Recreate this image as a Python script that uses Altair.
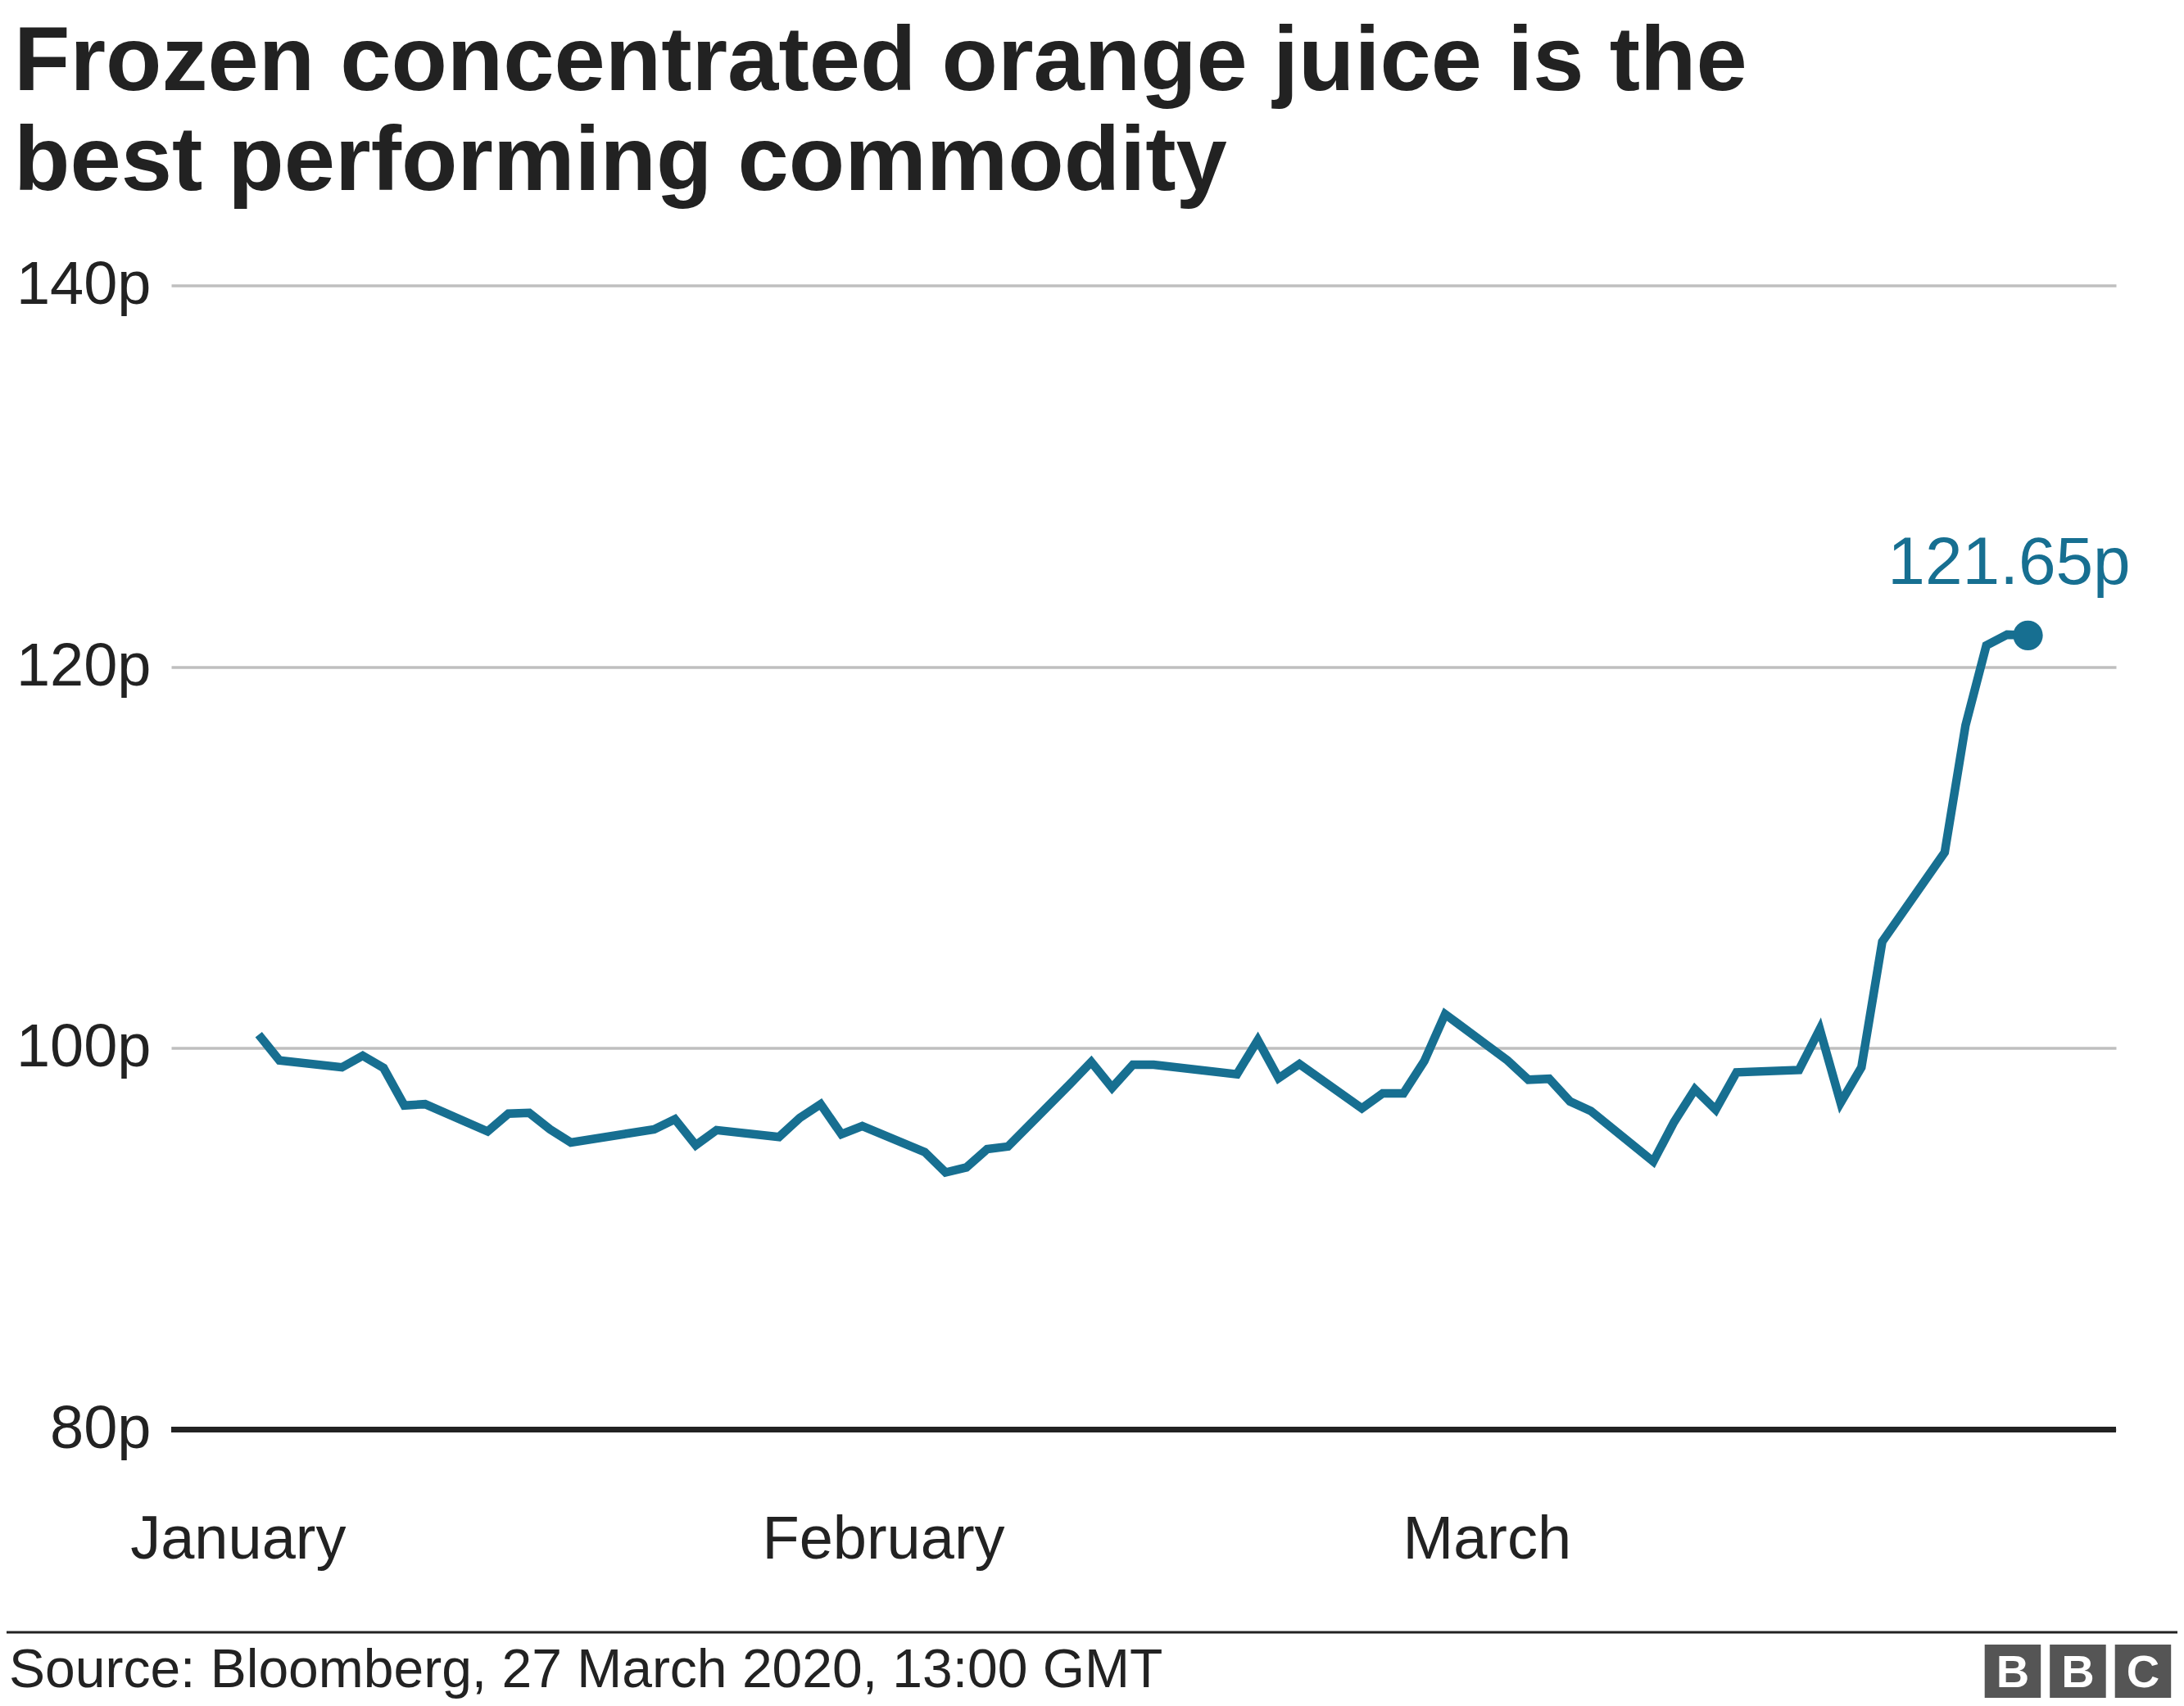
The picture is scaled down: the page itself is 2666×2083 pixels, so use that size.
import altair as alt
import pandas as pd

# ---- data ----
dates = [
    "2020-01-02", "2020-01-03", "2020-01-06", "2020-01-07", "2020-01-08", "2020-01-09", "2020-01-10",
    "2020-01-13", "2020-01-14", "2020-01-15", "2020-01-16", "2020-01-17",
    "2020-01-21", "2020-01-22", "2020-01-23", "2020-01-24",
    "2020-01-27", "2020-01-28", "2020-01-29", "2020-01-30", "2020-01-31",
    "2020-02-03", "2020-02-04", "2020-02-05", "2020-02-06", "2020-02-07",
    "2020-02-10", "2020-02-11", "2020-02-12", "2020-02-13", "2020-02-14",
    "2020-02-18", "2020-02-19", "2020-02-20", "2020-02-21",
    "2020-02-24", "2020-02-25", "2020-02-26", "2020-02-27", "2020-02-28",
    "2020-03-02", "2020-03-03", "2020-03-04", "2020-03-05", "2020-03-06",
    "2020-03-09", "2020-03-10", "2020-03-11", "2020-03-12", "2020-03-13",
    "2020-03-16", "2020-03-17", "2020-03-18", "2020-03-19", "2020-03-20",
    "2020-03-23", "2020-03-24", "2020-03-25", "2020-03-26", "2020-03-27",
]
prices = [
    100.72, 99.36, 99.00, 99.61, 98.97, 97.00, 97.07,
    95.64, 96.57, 96.61, 95.75, 95.06,
    95.75, 96.28, 94.92, 95.71,
    95.35, 96.35, 97.07, 95.49, 95.92,
    94.56, 93.49, 93.75, 94.71, 94.85,
    98.15, 99.28, 97.93, 99.14, 99.14,
    98.64, 100.43, 98.43, 99.17,
    96.85, 97.64, 97.64, 99.33, 101.79,
    99.36, 98.35, 98.40, 97.21, 96.71,
    94.06, 96.14, 97.85, 96.78, 98.74,
    98.86, 101.00, 97.14, 99.00, 105.59,
    110.27, 116.93, 121.12, 121.69, 121.65,
]

title_lines = ["Frozen concentrated orange juice is the", "best performing commodity"]
source_text = "Source: Bloomberg, 27 March 2020, 13:00 GMT"
logo_letters = ["B", "B", "C"]
month_ticks = [0, 31, 60]          # days after 1 January 2020
month_names = ["January", "February", "March"]
y_ticks = [80, 100, 120, 140]
y_baseline = [80]

# ---- styling ----
FONT = "Liberation Sans"
INK = "#222222"
BLUE = "#176f91"
GRID = "#bfbfbf"

df = pd.DataFrame({"date": pd.to_datetime(dates), "price": prices})
df["day"] = (df["date"] - pd.Timestamp("2020-01-01")).dt.days
df["date"] = df["date"].dt.strftime("%Y-%m-%d")
last = df.iloc[[-1]].copy()

label_expr = " : ".join(
    f"datum.value == {t} ? '{n}'" for t, n in zip(month_ticks[:-1], month_names[:-1])
) + f" : '{month_names[-1]}'"

x_enc = alt.X(
    "day:Q",
    scale=alt.Scale(domain=[-3.2, 90.23], nice=False, zero=False),
    axis=alt.Axis(
        values=month_ticks, labelExpr=label_expr, title=None, grid=False, ticks=False,
        domain=False, labelFont=FONT, labelFontSize=74, labelColor=INK, labelLimit=0,
        labelPadding=157, labelBaseline="alphabetic", labelAlign="center", labelFlush=False,
        labelOverlap=False,
    ),
)
y_enc = alt.Y(
    "price:Q",
    scale=alt.Scale(domain=[80, 140], nice=False, zero=False),
    axis=alt.Axis(
        values=y_ticks, labelExpr="datum.value + 'p'", title=None, grid=True,
        gridColor=GRID, gridWidth=3.5, ticks=False, domain=False, labelLimit=0,
        labelFont=FONT, labelFontSize=74, labelColor=INK, labelPadding=25,
        labelBaseline="middle", labelAlign="right",
    ),
)

base_rule = alt.Chart(pd.DataFrame({"price": y_baseline})).mark_rule(
    color=INK, strokeWidth=7
).encode(y=y_enc)

line = alt.Chart(df).mark_line(color=BLUE, strokeWidth=10.5).encode(x=x_enc, y=y_enc)

dot = alt.Chart(last).mark_circle(color=BLUE, size=1320, opacity=1).encode(x=x_enc, y=y_enc)

end_label = alt.Chart(last).transform_calculate(
    label="format(datum.price, '.2f') + 'p'"
).mark_text(
    font=FONT, fontSize=82, color=BLUE, align="center", baseline="alphabetic", dx=-23, dy=-63
).encode(x=x_enc, y=y_enc, text="label:N")

one = pd.DataFrame({"k": [0]})

title = alt.Chart(one).mark_text(
    text=title_lines, font=FONT, fontSize=112, fontWeight="bold", color=INK,
    align="left", baseline="alphabetic", lineHeight=122,
).encode(x=alt.value(-192), y=alt.value(-238.6))

footer_rule = alt.Chart(one).mark_rule(color=INK, strokeWidth=3).encode(
    x=alt.value(-201), x2=alt.value(2449), y=alt.value(1644.4)
)
footer_text = alt.Chart(one).mark_text(
    text=source_text, font=FONT, fontSize=66, color=INK, align="left", baseline="alphabetic"
).encode(x=alt.value(-198), y=alt.value(1711.4))

logo_layers = []
for i, letter in enumerate(logo_letters):
    x0 = 2213.7 + i * 79.5
    logo_layers.append(
        alt.Chart(one).mark_rect(color="#555555").encode(
            x=alt.value(x0), x2=alt.value(x0 + 68.5), y=alt.value(1659.4), y2=alt.value(1724.4)
        )
    )
    logo_layers.append(
        alt.Chart(one).mark_text(
            text=letter, font=FONT, fontSize=56, fontWeight="bold", color="white",
            align="center", baseline="alphabetic",
        ).encode(x=alt.value(x0 + 34.25), y=alt.value(1711.4))
    )

chart = alt.layer(
    base_rule, line, dot, end_label, title, footer_rule, footer_text, *logo_layers
).properties(
    width=2374,
    height=1397,
    autosize=alt.AutoSizeParams(type="none"),
    padding={"left": 201, "top": 340.6, "right": 75, "bottom": 329},
    background="white",
).configure_view(strokeWidth=0)

chart.save("out.html", embed_options={"renderer": "svg", "actions": False})
